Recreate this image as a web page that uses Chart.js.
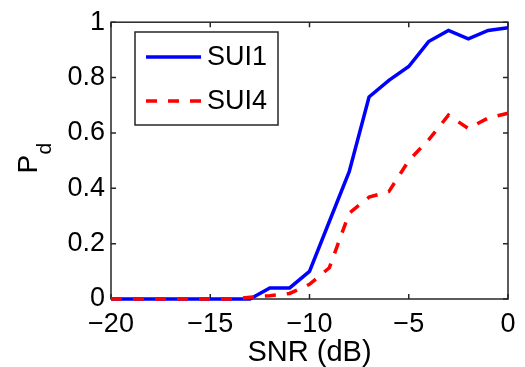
<!DOCTYPE html>
<html>
<head>
<meta charset="utf-8">
<script src="https://cdn.jsdelivr.net/npm/chart.js@4"></script>
<style>
  body { margin: 0; background: #fff; }
  #wrap { width: 525px; height: 367px; }
</style>
</head>
<body>
<div id="wrap"><canvas id="chart" width="525" height="367"></canvas></div>
<script>
// SNR in dB (x axis)
const snr = [-20, -19, -18, -17, -16, -15, -14, -13, -12, -11, -10, -9, -8, -7, -6, -5, -4, -3, -2, -1, 0];
const sui1 = [0, 0, 0, 0, 0, 0, 0, 0, 0.04, 0.04, 0.1, 0.28, 0.46, 0.73, 0.79, 0.84, 0.93, 0.97, 0.94, 0.97, 0.98];
const sui4 = [0, 0, 0, 0, 0, 0, 0, 0.006, 0.012, 0.02, 0.053, 0.113, 0.31, 0.368, 0.388, 0.5, 0.575, 0.664, 0.616, 0.654, 0.671];
const xTicks = [-20, -15, -10, -5, 0];
const yTicks = [0, 0.2, 0.4, 0.6, 0.8, 1];

const FONT = 'Liberation Sans, Arial, sans-serif';

const toPoints = (ys) => snr.map((x, i) => ({ x: x, y: ys[i] }));

// box + inward ticks, like a matlab axes
const frame = {
  id: 'frame',
  beforeDatasetsDraw(chart) {
    const { ctx, chartArea: a, scales } = chart;
    ctx.save();
    ctx.strokeStyle = '#262626';
    ctx.lineWidth = 1.5;
    ctx.strokeRect(a.left, a.top, a.right - a.left, a.bottom - a.top);
    ctx.beginPath();
    xTicks.forEach(v => {
      const px = scales.x.getPixelForValue(v);
      ctx.moveTo(px, a.bottom); ctx.lineTo(px, a.bottom - 5);
      ctx.moveTo(px, a.top); ctx.lineTo(px, a.top + 5);
    });
    yTicks.forEach(v => {
      const py = scales.y.getPixelForValue(v);
      ctx.moveTo(a.left, py); ctx.lineTo(a.left + 5, py);
      ctx.moveTo(a.right, py); ctx.lineTo(a.right - 5, py);
    });
    ctx.stroke();

    // axis titles
    ctx.fillStyle = '#000';
    ctx.textAlign = 'center';
    ctx.textBaseline = 'middle';
    ctx.font = '29px ' + FONT;
    ctx.fillText('SNR (dB)', (a.left + a.right) / 2, 353);

    ctx.translate(37, (a.top + a.bottom) / 2 + 2);
    ctx.rotate(-Math.PI / 2);
    ctx.textAlign = 'left';
    ctx.textBaseline = 'alphabetic';
    ctx.font = '28px ' + FONT;
    ctx.fillText('P', -11, 0);
    ctx.font = '21px ' + FONT;
    ctx.fillText('d', 8, 14);
    ctx.restore();
  },
  afterDraw(chart) {
    const { ctx } = chart;
    const box = { left: 135, top: 32, right: 278, bottom: 125 };
    ctx.save();
    ctx.fillStyle = '#fff';
    ctx.fillRect(box.left, box.top, box.right - box.left, box.bottom - box.top);
    ctx.strokeStyle = '#262626';
    ctx.lineWidth = 1.5;
    ctx.strokeRect(box.left, box.top, box.right - box.left, box.bottom - box.top);
    ctx.font = '27px ' + FONT;
    ctx.textBaseline = 'middle';
    ctx.textAlign = 'left';
    chart.data.datasets.forEach((ds, i) => {
      const y = 57 + i * 44;
      ctx.beginPath();
      ctx.strokeStyle = ds.borderColor;
      ctx.lineWidth = ds.borderWidth;
      ctx.setLineDash(ds.borderDash || []);
      ctx.moveTo(146, y); ctx.lineTo(201, y);
      ctx.stroke();
      ctx.setLineDash([]);
      ctx.fillStyle = '#000';
      ctx.fillText(ds.label, 207, y + 1);
    });
    ctx.restore();
  }
};

new Chart(document.getElementById('chart').getContext('2d'), {
  type: 'line',
  data: {
    datasets: [{
      label: 'SUI1',
      data: toPoints(sui1),
      borderColor: '#0000ff',
      borderWidth: 3.5,
      pointRadius: 0,
      tension: 0,
      clip: false,
      order: 1
    }, {
      label: 'SUI4',
      data: toPoints(sui4),
      borderColor: '#ff0000',
      borderWidth: 3.5,
      borderDash: [11, 11],
      pointRadius: 0,
      tension: 0,
      clip: false,
      order: 0
    }]
  },
  options: {
    responsive: false,
    animation: false,
    layout: { padding: { top: 20, right: 17, left: 0, bottom: 0 } },
    plugins: {
      legend: { display: false },
      tooltip: { enabled: false }
    },
    scales: {
      x: {
        type: 'linear',
        min: -20,
        max: 0,
        afterBuildTicks: (s) => { s.ticks = xTicks.map(v => ({ value: v })); },
        afterFit: (s) => { s.height = 68; },
        grid: { display: false, drawTicks: false },
        border: { display: false },
        ticks: {
          color: '#000',
          padding: 9,
          maxRotation: 0,
          font: { family: FONT, size: 27 },
          callback: (v) => (v < 0 ? '\u2212' + Math.abs(v) : String(v))
        }
      },
      y: {
        min: 0,
        max: 1,
        afterBuildTicks: (s) => { s.ticks = yTicks.map(v => ({ value: v })); },
        afterFit: (s) => { s.width = 111; },
        grid: { display: false, drawTicks: false },
        border: { display: false },
        ticks: {
          color: '#000',
          padding: 6,
          font: { family: FONT, size: 27 },
          callback: (v) => String(v)
        }
      }
    }
  },
  plugins: [frame]
});
</script>
</body>
</html>
